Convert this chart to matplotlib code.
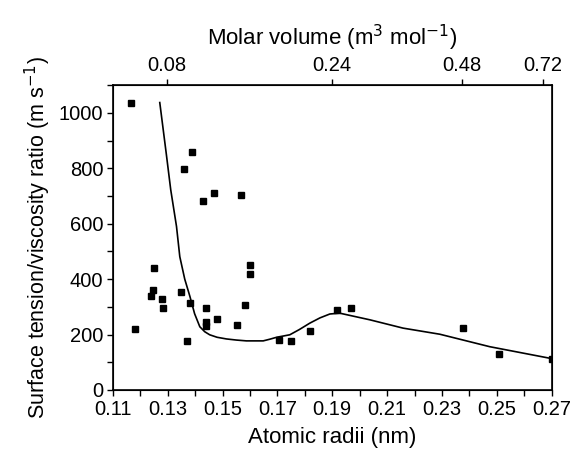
import numpy as np
import matplotlib
matplotlib.use("Agg")
import matplotlib.pyplot as plt
from matplotlib.ticker import MultipleLocator

plt.rcParams["font.family"] = ["Liberation Sans", "DejaVu Sans"]

# Measured points: atomic radius (nm) vs surface tension/viscosity ratio
radii = [0.1167, 0.1389, 0.1360, 0.1468, 0.1428, 0.1568,
         0.1180, 0.1251, 0.1248, 0.1240, 0.1280, 0.1281,
         0.1349, 0.1381, 0.1372, 0.1439, 0.1440, 0.1440,
         0.1480, 0.1551, 0.1580, 0.1600, 0.1600, 0.1705,
         0.1749, 0.1820, 0.1917, 0.1967, 0.2377, 0.2508, 0.2700]
ratio = [1037, 860, 798, 712, 680, 704,
         221, 441, 360, 338, 328, 297,
         353, 312, 177, 297, 245, 230,
         256, 236, 307, 452, 418, 180,
         176, 214, 289, 295, 225, 131, 113]

# Fitted curve
fit_r = [0.1271, 0.1295, 0.1311, 0.1332, 0.1344, 0.1362, 0.1381, 0.1398,
         0.1417, 0.1435, 0.1453, 0.1480, 0.1514, 0.1550, 0.1587, 0.1648,
         0.1672, 0.1697, 0.1745, 0.1780, 0.1818, 0.1855, 0.1891, 0.1927,
         0.2037, 0.2158, 0.2292, 0.2474, 0.2700]
fit_y = [1037, 850, 722, 590, 481, 400, 337, 275,
         228, 210, 199, 190, 184, 180, 177, 177,
         183, 190, 199, 218, 241, 260, 274, 277,
         253, 223, 201, 156, 113]

# Top axis: molar volume labels and where they fall on the radius scale
mv_labels = ["0.08", "0.24", "0.48", "0.72"]
mv_at_radius = [0.1297, 0.1898, 0.2372, 0.2667]

fig = plt.figure(figsize=(5.7, 4.55), dpi=100)
ax = fig.add_axes([0.198, 0.143, 0.770, 0.670])

ax.plot(fit_r, fit_y, color="black", linewidth=1.2)
ax.plot(radii, ratio, linestyle="none", marker="s", markersize=4.5,
        color="black")

xt = np.arange(0.11, 0.2701, 0.02)
ax.set_xlim(0.11, 0.27)
ax.set_ylim(0, 1100)
ax.set_xticks(xt)
ax.set_xticklabels([f"{v:.2f}" for v in xt])
ax.xaxis.set_minor_locator(MultipleLocator(0.01))
ax.set_yticks(range(0, 1001, 200))
ax.yaxis.set_minor_locator(MultipleLocator(100))

ax.tick_params(which="both", direction="out", length=4, width=1,
               labelsize=14.5, top=False, right=False, pad=3)
for s in ax.spines.values():
    s.set_linewidth(1.2)

ax.set_xlabel("Atomic radii (nm)", fontsize=16, labelpad=6)
ax.set_ylabel("Surface tension/viscosity ratio (m s$^{-1}$)", fontsize=15.5,
              labelpad=4)

top = ax.twiny()
top.set_xlim(ax.get_xlim())
top.set_xticks(mv_at_radius)
top.set_xticklabels(mv_labels)
top.tick_params(direction="out", length=4, width=1, labelsize=14.5, pad=3)
top.set_xlabel("Molar volume (m$^3$ mol$^{-1}$)", fontsize=16, labelpad=8)

fig.savefig("out.png", dpi=100)
